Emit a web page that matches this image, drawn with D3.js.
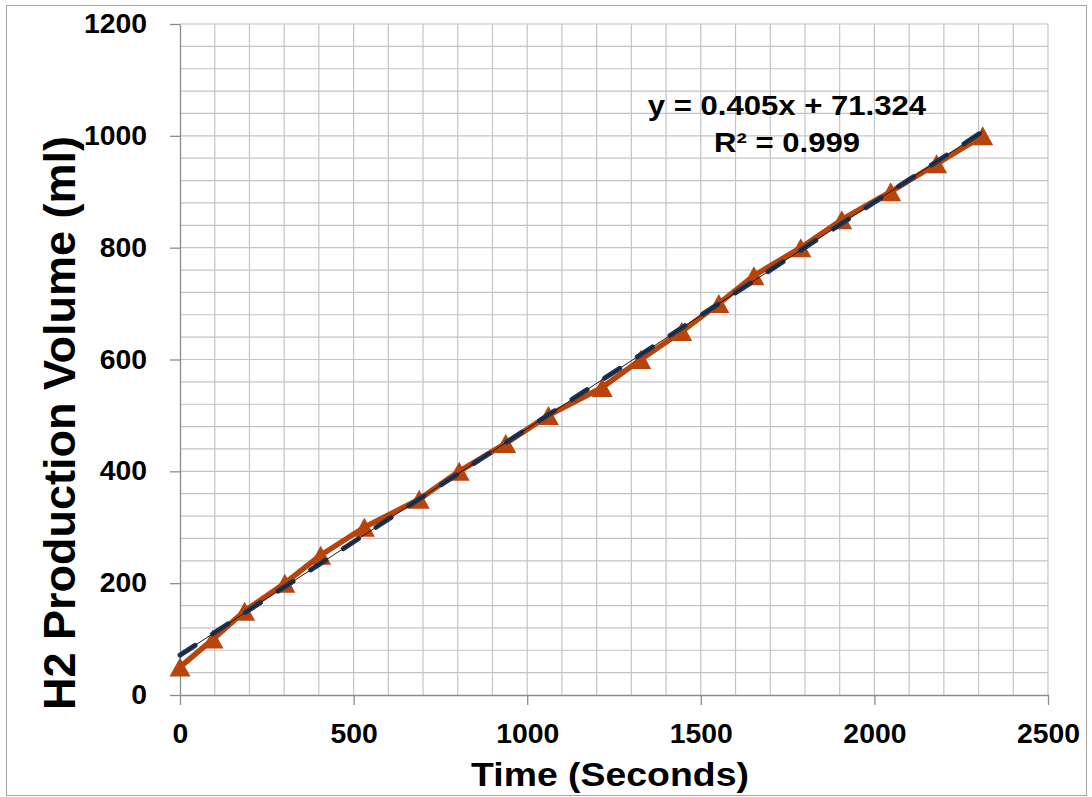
<!DOCTYPE html>
<html>
<head>
<meta charset="utf-8">
<script src="https://cdn.jsdelivr.net/npm/d3@7"></script>
<style>
  html, body { margin: 0; padding: 0; background: #ffffff; }
  svg { display: block; }
  text { font-family: "Liberation Sans", Arial, sans-serif; font-weight: bold; fill: #000; }
</style>
</head>
<body>
<svg id="chart" width="1092" height="797"></svg>
<script>
// ---- data ----
const timeSeconds = [0, 95, 186, 302, 405, 531, 689, 804, 938, 1061, 1216, 1327, 1445, 1552, 1653, 1788, 1906, 2047, 2179, 2312];
const h2Volume    = [50, 100, 150, 200, 250, 300, 350, 400, 450, 500, 550, 600, 650, 700, 750, 800, 850, 900, 950, 1000];
const xTickValues = [0, 500, 1000, 1500, 2000, 2500];
const yTickValues = [0, 200, 400, 600, 800, 1000, 1200];
const trendSlope = 0.405;
const trendIntercept = 71.324;
const trendR2 = 0.999;
const xTitle = "Time (Seconds)";
const yTitle = "H2 Production Volume (ml)";

// ---- layout ----
const svg = d3.select("#chart");
const plotL = 180, plotR = 1048, plotT = 24, plotB = 695;
const x = d3.scaleLinear().domain([0, 2500]).range([plotL, plotR]);
const y = d3.scaleLinear().domain([0, 1200]).range([plotB, plotT]);

// outer border
svg.append("rect").attr("x", 6.5).attr("y", 5.5).attr("width", 1080).attr("height", 790)
  .attr("fill", "#fff").attr("stroke", "#a6a6a6").attr("stroke-width", 1);

// gridlines
const grid = svg.append("g");
grid.selectAll("line.v").data(d3.range(100, 2501, 100)).join("line").attr("class", "v")
  .attr("x1", d => x(d)).attr("x2", d => x(d)).attr("y1", plotT).attr("y2", plotB)
  .attr("stroke", "#c4c4c4").attr("stroke-width", 1.2);
grid.selectAll("line.h").data(d3.range(40, 1201, 40)).join("line").attr("class", "h")
  .attr("x1", plotL).attr("x2", plotR).attr("y1", d => y(d)).attr("y2", d => y(d))
  .attr("stroke", "#c4c4c4").attr("stroke-width", 1.2);

// axes
const fmt = d3.format("d");
const yAxis = svg.append("g").attr("transform", `translate(${plotL},0)`)
  .call(d3.axisLeft(y).tickValues(yTickValues).tickFormat(fmt).tickSize(10).tickPadding(23).tickSizeOuter(0));
const xAxis = svg.append("g").attr("transform", `translate(0,${plotB})`)
  .call(d3.axisBottom(x).tickValues(xTickValues).tickFormat(fmt).tickSize(10).tickPadding(19).tickSizeOuter(0));
[yAxis, xAxis].forEach(g => {
  g.select(".domain").attr("stroke", "#8c8c8c").attr("stroke-width", 1.3);
  g.selectAll(".tick line").attr("stroke", "#8c8c8c").attr("stroke-width", 1.3);
  g.selectAll(".tick text").attr("font-size", 27).attr("font-family", "Liberation Sans, Arial, sans-serif")
    .attr("font-weight", "bold").attr("fill", "#000").classed("stretch", true).attr("data-s", 1.05);
});

// data series line
const pts = timeSeconds.map((t, i) => [t, h2Volume[i]]);
svg.append("path").datum(pts)
  .attr("d", d3.line().x(d => x(d[0])).y(d => y(d[1])))
  .attr("fill", "none").attr("stroke", "#b8440c").attr("stroke-width", 5.5)
  .attr("stroke-linejoin", "round");
// triangle markers
svg.append("g").selectAll("path").data(pts).join("path")
  .attr("transform", d => `translate(${x(d[0])},${y(d[1])})`)
  .attr("d", "M0,-9.5L10.5,9.5L-10.5,9.5Z")
  .attr("fill", "#b8440c");

// trendline
const tx0 = 0, tx1 = d3.max(timeSeconds);
const trend = [[tx0, trendSlope * tx0 + trendIntercept], [tx1, trendSlope * tx1 + trendIntercept]];
const tline = d3.line().x(d => x(d[0])).y(d => y(d[1]));
svg.append("path").datum(trend).attr("d", tline)
  .attr("fill", "none").attr("stroke", "#1d3658").attr("stroke-width", 5)
  .attr("stroke-dasharray", "18,21").attr("stroke-linecap", "round");
svg.append("path").datum(trend).attr("d", tline)
  .attr("fill", "none").attr("stroke", "#1a1a1a").attr("stroke-width", 1);

// equation
svg.append("text").attr("x", 787).attr("y", 115).attr("text-anchor", "middle")
  .attr("font-size", 28).classed("stretch", true).attr("data-s", 1.11)
  .text(`y = ${trendSlope}x  + ${trendIntercept}`);
svg.append("text").attr("x", 787).attr("y", 152).attr("text-anchor", "middle")
  .attr("font-size", 28).classed("stretch", true).attr("data-s", 1.11)
  .text(`R² = ${trendR2}`);

// axis titles
svg.append("text").attr("x", 610).attr("y", 786).attr("text-anchor", "middle")
  .attr("font-size", 34).classed("stretch", true).attr("data-s", 1.1)
  .text(xTitle);
svg.append("text").attr("transform", "translate(75,423) rotate(-90)").attr("text-anchor", "middle")
  .attr("font-size", 45)
  .text(yTitle);

// horizontal stretch to mimic the reference's proportions
svg.selectAll("text.stretch").each(function() {
  const s = +this.getAttribute("data-s");
  const len = this.getComputedTextLength();
  this.setAttribute("textLength", len * s);
  this.setAttribute("lengthAdjust", "spacingAndGlyphs");
});
</script>
</body>
</html>
